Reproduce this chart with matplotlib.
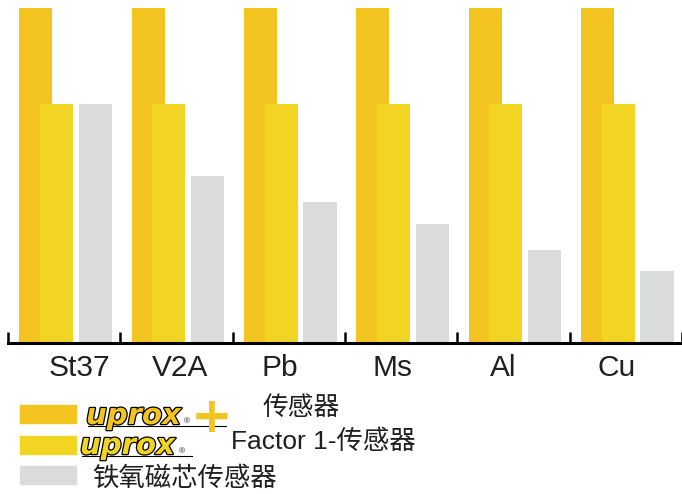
import matplotlib
matplotlib.use("Agg")
import matplotlib.pyplot as plt
import matplotlib.patheffects as pe
from matplotlib.patches import Rectangle

# Werkstoffe und relative Schaltabstände (Factor 1 = 1.0)
materials = ["St37", "V2A", "Pb", "Ms", "Al", "Cu"]
uprox_plus = [1.4, 1.4, 1.4, 1.4, 1.4, 1.4]
uprox_f1 = [1.0, 1.0, 1.0, 1.0, 1.0, 1.0]
ferrite = [1.0, 0.70, 0.59, 0.50, 0.39, 0.30]

c_plus = "#F3C320"
c_f1 = "#F2D523"
c_grey = "#DADBDB"
c_text = "#231F20"

plt.rcParams["font.family"] = ["Liberation Sans", "Noto Sans CJK SC", "DejaVu Sans"]

fig = plt.figure(figsize=(6.82, 4.94), dpi=100)
ax = fig.add_axes([8 / 682, 151 / 494, 674 / 682, 343 / 494])

x = list(range(len(materials)))
w = 0.295
ax.bar([i + 0.10 for i in x], uprox_plus, width=w, align="edge", color=c_plus, zorder=1)
ax.bar([i + 0.285 for i in x], uprox_f1, width=w, align="edge", color=c_f1, zorder=2)
ax.bar([i + 0.63 for i in x], ferrite, width=w, align="edge", color=c_grey, zorder=2)

ax.set_xlim(0, len(materials))
ax.set_ylim(0, 343 / 239)
for s in ["top", "right", "left"]:
    ax.spines[s].set_visible(False)
ax.spines["bottom"].set_linewidth(2.2)
ax.spines["bottom"].set_color("black")
ax.set_yticks([])
ax.set_xticks(range(len(materials) + 1))
ax.set_xticklabels([])
ax.tick_params(axis="x", direction="in", length=8, width=1.8, color="black")

# Beschriftung der Gruppen
label_shift = [0.64, 0.53, 0.42, 0.42, 0.41, 0.42]
for i, name in enumerate(materials):
    ax.text(i + label_shift[i], -0.045, name, ha="center", va="top",
            fontsize=21.5, color=c_text, clip_on=False)

# Legende (manuell, Pixelkoordinaten)
lg = fig.add_axes([0, 0, 1, 1])
lg.set_xlim(0, 682)
lg.set_ylim(494, 0)
lg.axis("off")
lg.patch.set_alpha(0)

lg.add_patch(Rectangle((20, 405), 56, 18, color=c_plus))
lg.add_patch(Rectangle((20, 436), 56, 18, color=c_f1))
lg.add_patch(Rectangle((20, 466), 56, 18, color=c_grey))

logo_fx = [pe.withStroke(linewidth=1.8, foreground="black")]
lg.text(86, 424, "uprox", fontsize=21, fontweight="heavy", style="italic",
        family="DejaVu Sans", color=c_plus, path_effects=logo_fx, va="baseline")
lg.text(184, 423, "®", fontsize=6, color=c_text, va="baseline")
lg.text(212, 418, "+", fontsize=36, fontweight="bold", color=c_plus,
        family="DejaVu Sans", ha="center", va="center")
lg.plot([88, 226], [426, 426], color="black", lw=0.8)

lg.text(80, 454, "uprox", fontsize=21, fontweight="heavy", style="italic",
        family="DejaVu Sans", color=c_f1, path_effects=logo_fx, va="baseline")
lg.text(179, 453, "®", fontsize=6, color=c_text, va="baseline")
lg.plot([82, 192], [456, 456], color="black", lw=0.8)

lg.text(263, 408, "传感器", fontsize=18.5, color=c_text, va="center")
lg.text(231, 442, "Factor 1-传感器", fontsize=19, color=c_text, va="center")
lg.text(92, 479, "铁氧磁芯传感器", fontsize=19, color=c_text, va="center")

fig.savefig("out.png", dpi=100)
